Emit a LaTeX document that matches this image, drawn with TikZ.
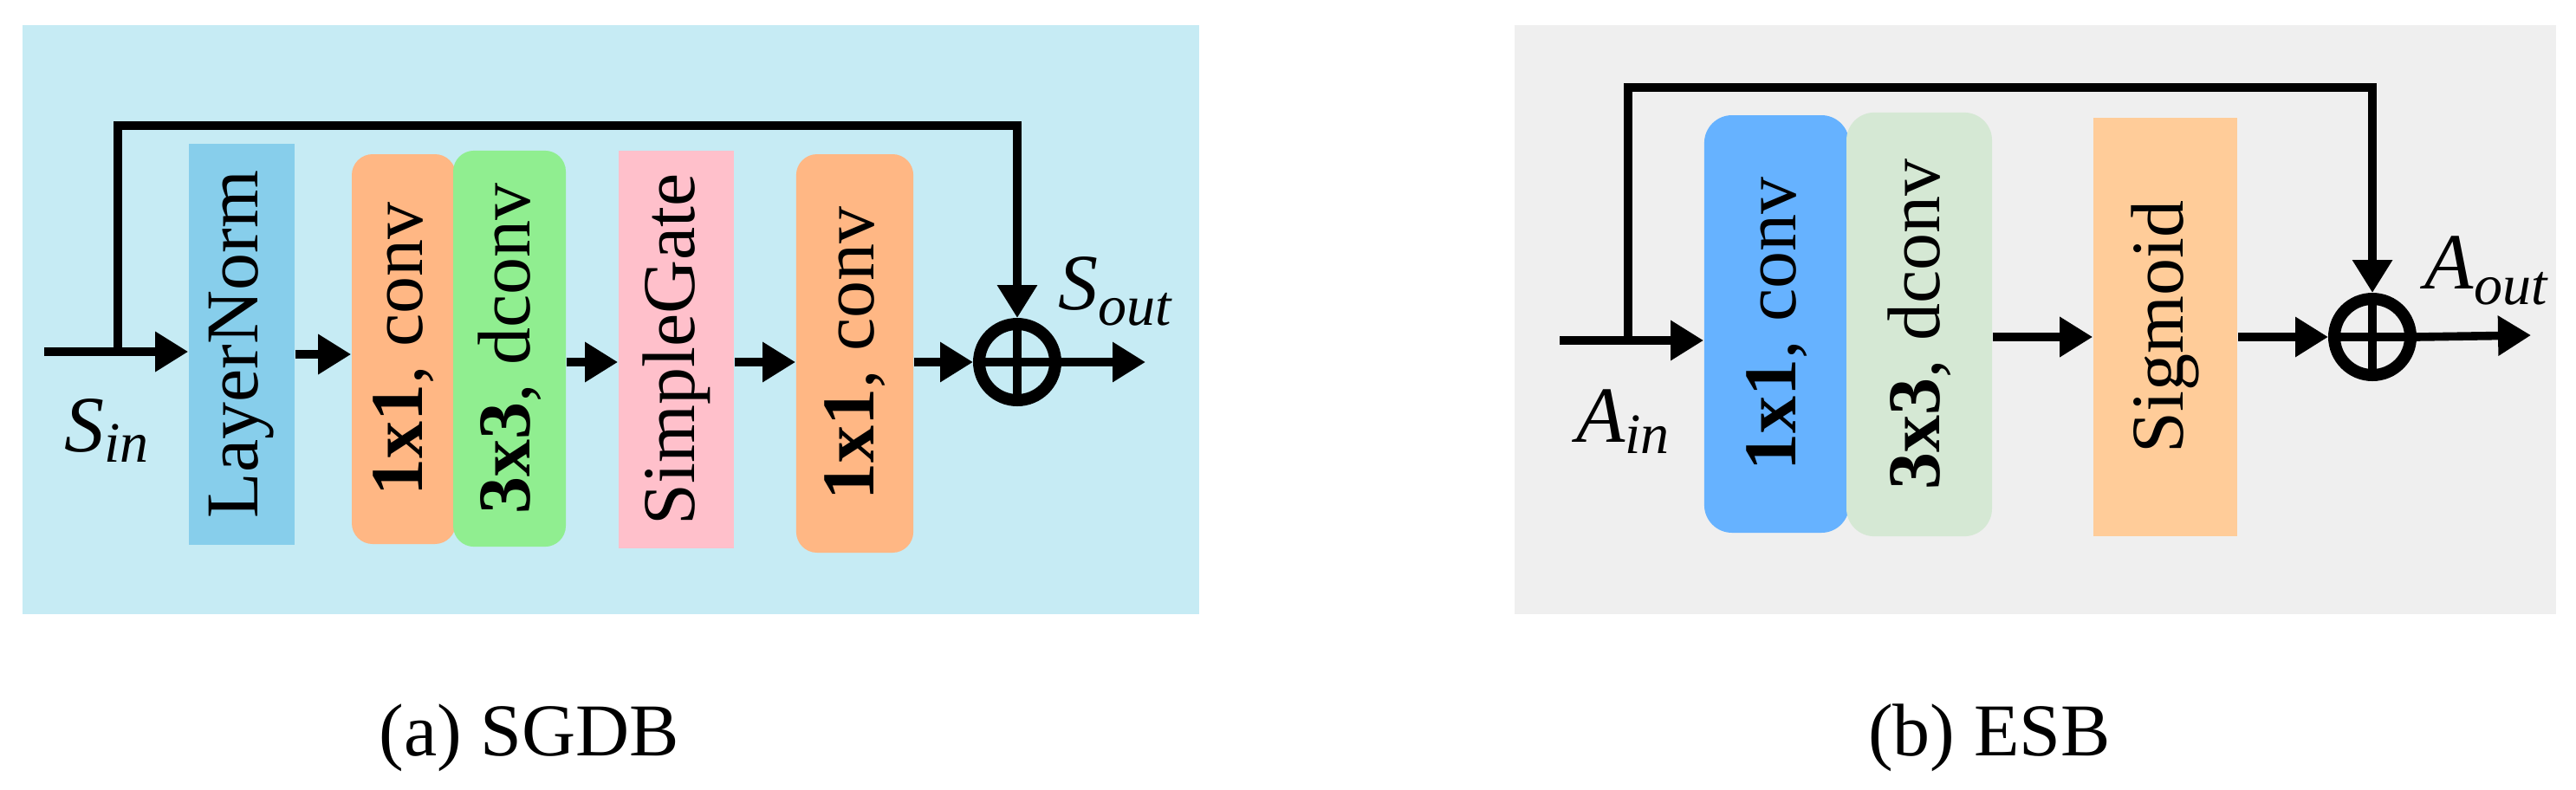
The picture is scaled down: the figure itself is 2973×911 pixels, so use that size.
\documentclass[tikz,border=0pt]{standalone}
\usepackage{fontspec}
\setmainfont{LiberationSerif}[Extension=.ttf, UprightFont=*-Regular, BoldFont=*-Bold, ItalicFont=*-Italic, BoldItalicFont=*-BoldItalic]
\usetikzlibrary{arrows.meta}
\definecolor{bga}{HTML}{C6EBF4}
\definecolor{bgb}{HTML}{EFEFEF}
\definecolor{normblue}{HTML}{87CEEB}
\definecolor{convorange}{HTML}{FFB784}
\definecolor{dconvgreen}{HTML}{90EE90}
\definecolor{gatepink}{HTML}{FFC0CB}
\definecolor{convblue}{HTML}{66B2FF}
\definecolor{dconvpale}{HTML}{D5E8D4}
\definecolor{sigorange}{HTML}{FFCC99}
\newcommand\vtext[1]{\rotatebox{90}{#1}}
\newcommand\lbl[3]{\textit{#1}\raisebox{-#3}{\fontsize{16.5pt}{16.5pt}\selectfont\textit{#2}}}
\begin{document}
\begin{tikzpicture}
[
   x=0.25pt, y=-0.25pt,
   every node/.style={inner sep=0pt, font=\fontsize{21.5pt}{24pt}\selectfont},
   arr/.style={line width=2.4pt, -{Triangle[length=9.5pt,width=11pt]}},
   sum/.style={circle, draw, line width=3.5pt, minimum size=22pt},
   lab/.style={anchor=base, font=\fontsize{23pt}{24pt}\selectfont}
]
\useasboundingbox (0,0) rectangle (2973,911);
\fill[bga] (26,29) rectangle (1384,709);
\fill[bgb] (1748,29) rectangle (2950,709);

\node[fill=normblue, minimum width=30.5pt, minimum height=115.8pt] (norm) at (279,397.5) {\vtext{LayerNorm}};
\node[fill=convorange, rounded corners=6pt, minimum width=30pt, minimum height=112.5pt] (conva) at (466,403) {\vtext{\textbf{1x1}, conv}};
\node[fill=dconvgreen, rounded corners=6pt, minimum width=32.5pt, minimum height=114.3pt] (dconva) at (588,402.5) {\vtext{\textbf{3x3}, dconv}};
\node[fill=gatepink, minimum width=33.3pt, minimum height=114.8pt] (gate) at (780.5,403.5) {\vtext{SimpleGate}};
\node[fill=convorange, rounded corners=6pt, minimum width=33.8pt, minimum height=115pt] (convb) at (986.5,408) {\vtext{\textbf{1x1}, conv}};
\node[sum] (adda) at (1174,418) {};
\draw[line width=2.4pt] (adda.north) -- (adda.south) (adda.west) -- (adda.east);
\coordinate (ina) at (51,406);
\coordinate (sa) at (136,406);
\coordinate (topa) at (1174,145);
\coordinate (ra) at (0,409);
\coordinate (rb) at (0,418);
\coordinate (outa) at (1322,418);
\draw[arr] (ina) -- (ina -| norm.west);
\draw[arr] (sa) |- (topa) -- (adda.north);
\draw[arr] (norm.east |- ra) -- (conva.west |- ra);
\draw[arr] (dconva.east |- rb) -- (gate.west |- rb);
\draw[arr] (gate.east |- rb) -- (convb.west |- rb);
\draw[arr] (convb.east |- rb) -- (adda.west);
\draw[arr] (adda.east) -- (outa);
\node[lab] (sin) at (123,521) {\lbl{S}{in}{3pt}};
\node[lab] (sout) at (1287,357) {\lbl{S}{out}{4.5pt}};

\node[fill=convblue, rounded corners=8pt, minimum width=41.8pt, minimum height=120.5pt] (convc) at (2050.5,374) {\vtext{\textbf{1x1}, conv}};
\node[fill=dconvpale, rounded corners=8pt, minimum width=42pt, minimum height=122.3pt] (dconvc) at (2215,374.5) {\vtext{\textbf{3x3}, dconv}};
\node[fill=sigorange, minimum width=41.5pt, minimum height=120.8pt] (sig) at (2499,377.5) {\vtext{Sigmoid}};
\node[sum] (addb) at (2738,389) {};
\draw[line width=2.4pt] (addb.north) -- (addb.south) (addb.west) -- (addb.east);
\coordinate (inb) at (1800,393);
\coordinate (sb) at (1879,393);
\coordinate (topb) at (2738,101);
\coordinate (rc) at (0,389);
\coordinate (outb) at (2921,387);
\draw[arr] (inb) -- (inb -| convc.west);
\draw[arr] (sb) |- (topb) -- (addb.north);
\draw[arr] (dconvc.east |- rc) -- (sig.west |- rc);
\draw[arr] (sig.east |- rc) -- (addb.west);
\draw[arr] (addb.east) -- (outb);
\node[lab] (ain) at (1873,510) {\lbl{A}{in}{3.25pt}};
\node[lab] (aout) at (2870,333) {\lbl{A}{out}{4.5pt}};

\node[anchor=base] (capa) at (611,872) {(a) SGDB};
\node[anchor=base] (capb) at (2296,872) {(b) ESB};
\end{tikzpicture}
\end{document}
